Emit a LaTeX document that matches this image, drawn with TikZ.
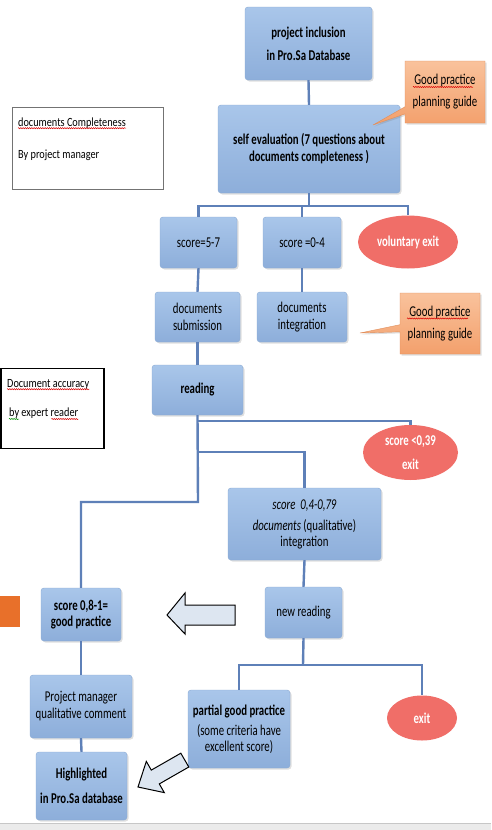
\documentclass[tikz,border=0pt]{standalone}
\usepackage{fontspec}
\setmainfont{Carlito}[FakeStretch=0.72]
\newfontfamily\notefont{Carlito}[FakeStretch=0.82]
\usetikzlibrary{shapes.geometric,shapes.callouts,shadows,decorations.pathmorphing}
\definecolor{boxtop}{HTML}{A9C6EA}
\definecolor{boxbot}{HTML}{8DAEDA}
\definecolor{boxedge}{HTML}{8AAAD4}
\definecolor{conncol}{HTML}{5E80B8}
\definecolor{exitred}{HTML}{F06E68}
\definecolor{ortop}{HTML}{F9C29C}
\definecolor{orbot}{HTML}{F3A06C}
\definecolor{oredge}{HTML}{E08E5C}
\definecolor{arrowfill}{HTML}{DDE6F1}
\definecolor{darkorange}{HTML}{E8702A}
\begin{document}
\begin{tikzpicture}[x=1pt,y=-1pt,
  bx/.style={draw=boxedge, top color=boxtop, bottom color=boxbot, rounded corners=3pt,
    drop shadow={opacity=0.25,shadow xshift=1.5pt,shadow yshift=-1.5pt},
    align=center, inner sep=0pt, font=\fontsize{15}{17}\selectfont},
  exitel/.style={ellipse, fill=exitred, draw=none, text=white, align=center, inner sep=0pt,
    font=\fontsize{15}{17}\selectfont\bfseries},
  conn/.style={draw=conncol, line width=2.4pt},
  callbox/.style={rectangle callout, draw=oredge, top color=ortop, bottom color=orbot,
    align=center, inner sep=0pt, font=\fontsize{15}{22}\selectfont,
    drop shadow={opacity=0.25,shadow xshift=1.5pt,shadow yshift=-1.5pt}},
  hollow/.style={draw=black, fill=arrowfill, line width=1pt, line join=miter},
  notebox/.style={draw, fill=white},
  notetext/.style={anchor=base west, inner sep=0pt, font=\notefont\fontsize{12.5}{14}\selectfont},
  squig/.style={draw=red!85!black, line width=0.5pt, decorate,
    decoration={snake, amplitude=0.6pt, segment length=2.2pt}},
  squiggreen/.style={squig, draw=green!55!black}
]
\useasboundingbox (0,0) rectangle (491,830);
\fill[white] (0,0) rectangle (491,830);
% bottom strip
\fill[black!8] (0,823) rectangle (491,830);
\draw[black!22] (0,823) -- (491,823);

% left note boxes
\node[notebox, draw=black!55, line width=1pt, minimum width=151pt, minimum height=82pt] (n1) at (87.5,148) {};
\node[notetext] (n1a) at (18,126) {documents Completeness};
\node[notetext] (n1b) at (18,158) {By project manager};
\draw[squig] ([yshift=-2.2pt]n1a.base west) -- ([yshift=-2.2pt]n1a.base east);
\node[notebox, draw=black, line width=1.3pt, minimum width=103pt, minimum height=80pt] (n2) at (52.5,408.5) {};
\node[notetext] (n2a) at (7,387) {Document accuracy};
\node[notetext] (n2b) at (9,416) {by expert reader};
\draw[squig] ([yshift=-2.2pt]n2a.base west) -- ([yshift=-2.2pt]n2a.base east);
\draw[squiggreen] ([yshift=-3pt]n2b.base west) -- ++(10,0);
\draw[squig] ([yshift=-3pt,xshift=-27pt]n2b.base east) -- ([yshift=-3pt]n2b.base east);
\fill[darkorange] (0,596) rectangle (20,627);

% junction points
\coordinate (j1) at (309,206);
\coordinate (j2) at (198,421);
\coordinate (j3) at (198,452);
\coordinate (j4) at (198,502);
\coordinate (j5) at (303,665);

% boxes
\node[bx, minimum width=127pt, minimum height=73pt, font=\fontsize{15}{23}\selectfont\bfseries] (pi) at (308.5,43.5) {project inclusion\\in Pro.Sa Database};
\node[bx, minimum width=182pt, minimum height=88pt, font=\fontsize{15}{17}\selectfont\bfseries] (se) at (309,149) {self evaluation (7 questions about\\documents completeness )};
\node[bx, minimum width=77pt, minimum height=51pt] (s57) at (198.5,242.5) {score=5-7};
\node[bx, minimum width=78pt, minimum height=51pt] (s04) at (302,242.5) {score =0-4};
\node[exitel, minimum width=100pt, minimum height=53pt] (ve) at (408,242) {voluntary exit};
\node[bx, minimum width=85pt, minimum height=50pt] (ds) at (197.5,317) {documents\\submission};
\node[bx, minimum width=90pt, minimum height=50pt] (di) at (302,317) {documents\\integration};
\node[bx, minimum width=91pt, minimum height=50pt, font=\fontsize{15}{17}\selectfont\bfseries] (rd) at (197.5,390) {reading};
\node[exitel, minimum width=95pt, minimum height=55pt, font=\fontsize{15}{24}\selectfont\bfseries] (sx) at (410.5,452.5) {score <0,39\\exit};
\node[bx, minimum width=153pt, minimum height=72pt, font=\fontsize{15}{19}\selectfont] (sq) at (304.5,524) {\textit{score\ \ 0,4-0,79}\\[2pt]\textit{documents} (qualitative)\\[-3pt]integration};
\node[bx, minimum width=77pt, minimum height=51pt] (nr) at (303.5,612.5) {new reading};
\node[bx, minimum width=80pt, minimum height=53pt, font=\fontsize{15}{16}\selectfont\bfseries] (gp) at (81,614.5) {score 0,8-1=\\good practice};
\node[bx, minimum width=102pt, minimum height=63pt] (pm) at (81,706.5) {Project manager\\qualitative comment};
\node[bx, minimum width=91pt, minimum height=68pt, font=\fontsize{15}{25}\selectfont\bfseries] (hl) at (81.5,786) {Highlighted\\in Pro.Sa database};
\node[bx, minimum width=102pt, minimum height=78pt, font=\fontsize{15}{16}\selectfont] (pg) at (239,729) {\textbf{partial good practice}\\[4pt](some criteria have\\excellent score)};
\node[exitel, minimum width=70pt, minimum height=45pt] (ex) at (422,718) {exit};

% callouts
\node[callbox, minimum width=80pt, minimum height=62pt, callout absolute pointer={(373,125)}] (c1) at (445,92) {Good practice\\planning guide};
\node[callbox, minimum width=80pt, minimum height=61pt, callout absolute pointer={(360,333)}] (c2) at (440,323.5) {Good practice\\planning guide};
\draw[squig] (413,87) -- (473,87);
\draw[squig] (407,318.5) -- (468,318.5);

% connectors
\draw[conn] (pi.south) -- (se.north);
\draw[conn] (se.south) -- (j1);
\draw[conn] (s57.north) |- (ve.north |- j1) -- (ve.north);
\draw[conn] (s04.north) -- (s04.north |- j1);
\draw[conn] (s57.south) -- (ds.north);
\draw[conn] (s04.south) -- (di.north);
\draw[conn] (ds.south) -- (rd.north);
\draw[conn] (rd.south) -- (j4) -| (gp.north);
\draw[conn] (j2) -| (sx.north);
\draw[conn] (j3) -| (sq.north);
\draw[conn] (sq.south) -- (nr.north);
\draw[conn] (nr.south) -- (j5);
\draw[conn] (pg.north) |- (j5) -| (ex.north);
\draw[conn] (gp.south) -- (pm.north);
\draw[conn] (pm.south) -- (hl.north);

% hollow arrows
\draw[hollow] (235,605) -- (185,605) -- (185,593) -- (167,615) -- (185,634) -- (185,625) -- (235,625) -- cycle;
\draw[hollow] (180.8,753.2) -- (151.3,770.1) -- (146.3,761.4) -- (138,787) -- (164.3,792.6) -- (159.3,783.9) -- (188.8,767.0) -- cycle;
\end{tikzpicture}
\end{document}
